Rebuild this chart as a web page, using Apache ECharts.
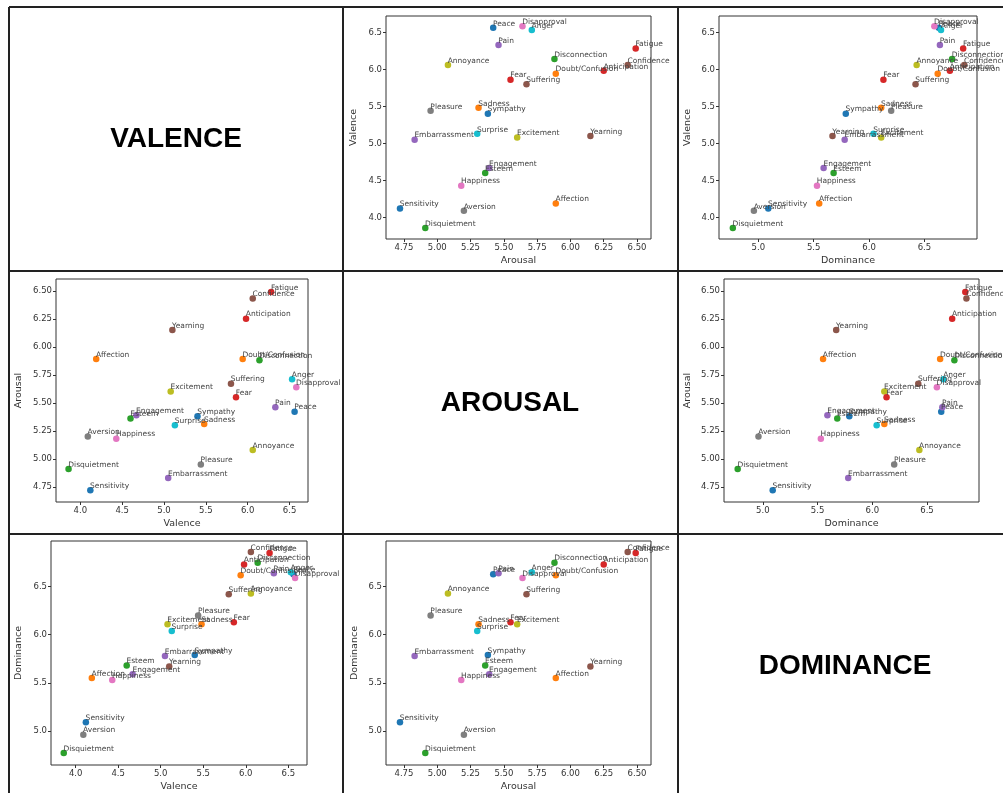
<!DOCTYPE html>
<html>
<head>
<meta charset="utf-8">
<script src="https://cdn.jsdelivr.net/npm/echarts@6/dist/echarts.min.js"></script>
<style>
  html, body { margin: 0; padding: 0; background: #fff; }
  #chart { width: 1003px; height: 793px; }
</style>
</head>
<body>
<div id="chart"></div>
<script>
// emotion categories, in plotting order (colour cycles through tab10)
const emotions = ['Peace', 'Affection', 'Esteem', 'Anticipation', 'Engagement', 'Confidence', 'Happiness',
  'Pleasure', 'Excitement', 'Surprise', 'Sympathy', 'Doubt/Confusion', 'Disconnection', 'Fatigue',
  'Embarrassment', 'Yearning', 'Disapproval', 'Aversion', 'Annoyance', 'Anger', 'Sensitivity',
  'Sadness', 'Disquietment', 'Fear', 'Pain', 'Suffering'];
const valence = [6.56, 4.19, 4.60, 5.98, 4.67, 6.06, 4.43, 5.44, 5.08, 5.13, 5.40, 5.94, 6.14, 6.28,
  5.05, 5.10, 6.58, 4.09, 6.06, 6.53, 4.12, 5.48, 3.86, 5.86, 6.33, 5.80];
const arousal = [5.42, 5.89, 5.36, 6.25, 5.39, 6.43, 5.18, 4.95, 5.60, 5.30, 5.38, 5.89, 5.88, 6.49,
  4.83, 6.15, 5.64, 5.20, 5.08, 5.71, 4.72, 5.31, 4.91, 5.55, 5.46, 5.67];
const dominance = [6.63, 5.55, 5.68, 6.73, 5.59, 6.86, 5.53, 6.20, 6.11, 6.04, 5.79, 6.62, 6.75, 6.85,
  5.78, 5.67, 6.59, 4.96, 6.43, 6.65, 5.09, 6.11, 4.77, 6.13, 6.64, 6.42];

const valenceTicks = [4.0, 4.5, 5.0, 5.5, 6.0, 6.5];
const arousalTicks = [4.75, 5.0, 5.25, 5.5, 5.75, 6.0, 6.25, 6.5];
const dominanceTicks = [5.0, 5.5, 6.0, 6.5];

const palette = ['#1f77b4', '#ff7f0e', '#2ca02c', '#d62728', '#9467bd',
  '#8c564b', '#e377c2', '#7f7f7f', '#bcbd22', '#17becf'];

const dims = {
  Valence: { values: valence, ticks: valenceTicks, min: 3.71, max: 6.72, digits: 1 },
  Arousal: { values: arousal, ticks: arousalTicks, min: 4.615, max: 6.605, digits: 2 },
  Dominance: { values: dominance, ticks: dominanceTicks, min: 4.645, max: 6.975, digits: 1 },
};

// x dim, y dim, left, top, width, height, y-name gap
const panels = [
  ['Arousal', 'Valence', 386, 16, 265, 223, 27],
  ['Dominance', 'Valence', 719, 16, 258, 223, 26],
  ['Valence', 'Arousal', 56, 279, 252, 223, 32],
  ['Dominance', 'Arousal', 724, 279, 255, 223, 31],
  ['Valence', 'Dominance', 51, 541, 256, 225, 27],
  ['Arousal', 'Dominance', 386, 541, 265, 225, 26],
];

const font = 'DejaVu Sans';

function makeAxis(dimName, gridIndex, gap) {
  const d = dims[dimName];
  return {
    type: 'value',
    gridIndex,
    min: d.min,
    max: d.max,
    name: dimName,
    nameLocation: 'middle',
    nameGap: gap,
    nameTextStyle: { color: '#333', fontSize: 9.5, fontFamily: font },
    axisLine: { show: false },
    axisTick: { show: true, length: 3, customValues: d.ticks, lineStyle: { color: '#333' } },
    axisLabel: {
      customValues: d.ticks,
      formatter: (v) => v.toFixed(d.digits),
      color: '#333', fontSize: 8.5, fontFamily: font, margin: 4,
    },
    splitLine: { show: false },
  };
}

const chart = echarts.init(document.getElementById('chart'));

const lineStyle = { stroke: '#222', lineWidth: 2 };
const borders = [9, 343, 678].map((x) => ({
  type: 'line', shape: { x1: x, y1: 7, x2: x, y2: 793 }, style: lineStyle, z: 10,
})).concat([7, 271, 534].map((y) => ({
  type: 'line', shape: { x1: 9, y1: y, x2: 1003, y2: y }, style: lineStyle, z: 10,
})));

const titles = [['VALENCE', 176, 139], ['AROUSAL', 510, 403], ['DOMINANCE', 845, 666]].map(([t, x, y]) => ({
  type: 'text', x, y,
  style: {
    text: t, fill: '#000', align: 'center', verticalAlign: 'middle',
    font: 'bold 28px "Liberation Sans", Arial, sans-serif',
  },
}));

chart.setOption({
  animation: false,
  graphic: borders.concat(titles),
  grid: panels.map((p) => ({
    left: p[2], top: p[3], width: p[4], height: p[5],
    show: true, borderColor: '#333', borderWidth: 1, backgroundColor: 'transparent',
  })),
  xAxis: panels.map((p, i) => makeAxis(p[0], i, 17)),
  yAxis: panels.map((p, i) => makeAxis(p[1], i, p[6])),
  series: panels.map((p, i) => ({
    type: 'scatter',
    xAxisIndex: i,
    yAxisIndex: i,
    symbolSize: 6.5,
    data: emotions.map((name, k) => ({
      name,
      value: [dims[p[0]].values[k], dims[p[1]].values[k]],
      itemStyle: { color: palette[k % 10], opacity: 1 },
    })),
    label: {
      show: true, formatter: '{b}', position: [3, 3], align: 'left', verticalAlign: 'bottom',
      color: '#444', fontSize: 7.5, fontFamily: font,
    },
    emphasis: { disabled: true },
  })),
});
</script>
</body>
</html>
